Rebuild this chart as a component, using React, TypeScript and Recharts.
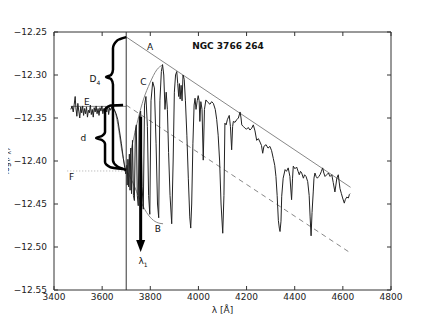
import React from 'react';
import { ComposedChart, Line, XAxis, YAxis, ReferenceLine, ReferenceDot } from 'recharts';

const FONT = '"DejaVu Sans", sans-serif';

const xTicks = [3400, 3600, 3800, 4000, 4200, 4400, 4600, 4800];
const yTicks = [-12.55, -12.5, -12.45, -12.4, -12.35, -12.3, -12.25];

// spectrum: [wavelength, log flux]
const spectrumBlue: number[][] = [
  [3470, -12.340], [3475, -12.336], [3480, -12.343], [3484, -12.334], [3488, -12.325],
  [3491, -12.338], [3495, -12.348], [3499, -12.333], [3503, -12.342], [3507, -12.350],
  [3511, -12.337], [3515, -12.344], [3519, -12.336], [3523, -12.347], [3527, -12.339],
  [3531, -12.345], [3535, -12.337], [3539, -12.349], [3543, -12.341], [3547, -12.344],
  [3551, -12.335], [3555, -12.346], [3559, -12.340], [3563, -12.349], [3567, -12.338],
  [3571, -12.343], [3575, -12.336], [3579, -12.345], [3583, -12.339], [3587, -12.347],
  [3591, -12.338], [3595, -12.342], [3599, -12.336], [3603, -12.345], [3607, -12.339],
  [3611, -12.344], [3615, -12.337], [3619, -12.343], [3623, -12.336], [3627, -12.346],
  [3631, -12.338], [3635, -12.341], [3640, -12.337], [3645, -12.343], [3650, -12.340],
  [3658, -12.345], [3665, -12.352], [3672, -12.365], [3680, -12.380], [3688, -12.397],
  [3694, -12.408], [3698, -12.415],
];
const spectrumBalmer: number[][] = [
  [3702, -12.405], [3704, -12.428], [3707, -12.398], [3710, -12.430], [3713, -12.392],
  [3716, -12.434], [3719, -12.385], [3722, -12.438], [3726, -12.376], [3730, -12.440],
  [3734, -12.446], [3738, -12.365], [3742, -12.358], [3746, -12.440], [3750, -12.452],
  [3754, -12.350], [3760, -12.342], [3766, -12.430], [3771, -12.456], [3776, -12.335],
  [3782, -12.325], [3788, -12.360], [3793, -12.440], [3798, -12.462], [3803, -12.330],
  [3810, -12.308], [3817, -12.315], [3824, -12.380], [3830, -12.450], [3835, -12.466],
  [3840, -12.330], [3846, -12.296], [3851, -12.288], [3856, -12.300], [3861, -12.340],
  [3866, -12.320], [3871, -12.340], [3876, -12.390], [3882, -12.440], [3889, -12.473],
  [3895, -12.400], [3900, -12.320], [3905, -12.300], [3910, -12.296], [3914, -12.310],
  [3918, -12.325], [3921, -12.310], [3924, -12.328], [3928, -12.312], [3932, -12.330],
  [3936, -12.300], [3941, -12.305], [3946, -12.330], [3952, -12.370], [3958, -12.420],
  [3964, -12.465], [3968, -12.478], [3972, -12.450], [3977, -12.380], [3982, -12.335],
  [3986, -12.327], [3990, -12.340], [3995, -12.330], [3999, -12.324],
];
const spectrumRed: number[][] = [
  [4003, -12.330], [4006, -12.354], [4010, -12.331], [4015, -12.340], [4020, -12.399],
  [4025, -12.340], [4031, -12.329], [4040, -12.332], [4048, -12.334], [4055, -12.331],
  [4062, -12.333], [4070, -12.340], [4076, -12.352], [4082, -12.370], [4088, -12.400],
  [4094, -12.450], [4101, -12.484], [4106, -12.440], [4110, -12.356], [4115, -12.358],
  [4120, -12.352], [4128, -12.347], [4133, -12.360], [4138, -12.387], [4142, -12.360],
  [4145, -12.354], [4152, -12.355], [4159, -12.352], [4166, -12.350], [4173, -12.343],
  [4177, -12.350], [4180, -12.358], [4187, -12.360], [4194, -12.362], [4200, -12.363],
  [4207, -12.361], [4214, -12.364], [4221, -12.362], [4228, -12.358], [4235, -12.365],
  [4242, -12.376], [4249, -12.374], [4256, -12.378], [4262, -12.382], [4267, -12.391],
  [4272, -12.383], [4281, -12.381], [4289, -12.385], [4297, -12.383], [4304, -12.388],
  [4311, -12.397], [4317, -12.405], [4322, -12.418], [4327, -12.440], [4332, -12.469],
  [4336, -12.478], [4339, -12.482], [4343, -12.470], [4346, -12.441], [4352, -12.420],
  [4360, -12.410], [4366, -12.412], [4373, -12.408], [4380, -12.418], [4387, -12.445],
  [4391, -12.420], [4394, -12.406], [4401, -12.409], [4408, -12.407], [4414, -12.412],
  [4419, -12.416], [4424, -12.412], [4429, -12.414], [4436, -12.420], [4441, -12.416],
  [4447, -12.418], [4454, -12.424], [4460, -12.440], [4464, -12.465], [4468, -12.487],
  [4472, -12.460], [4477, -12.436], [4480, -12.420], [4484, -12.414], [4489, -12.418],
  [4494, -12.420], [4500, -12.418], [4505, -12.416], [4511, -12.412], [4516, -12.408],
  [4521, -12.414], [4526, -12.418], [4533, -12.416], [4540, -12.414], [4547, -12.418],
  [4554, -12.416], [4560, -12.425], [4567, -12.436], [4571, -12.428], [4575, -12.420],
  [4581, -12.416], [4588, -12.432], [4594, -12.438], [4599, -12.443], [4606, -12.449],
  [4610, -12.445], [4616, -12.442], [4623, -12.443], [4627, -12.439], [4630, -12.438],
];

const lineA = [[3700, -12.2558], [4632, -12.4306]];
const lineDashed = [[3700, -12.335], [4630, -12.5066]];
const lineE = [[3470, -12.3365], [3700, -12.3365]];
const lineF = [[3455, -12.4116], [3700, -12.4116]];
const curveLeft = [[3640, -12.337], [3650, -12.340], [3660, -12.350], [3670, -12.366], [3680, -12.385], [3690, -12.400], [3698, -12.4105]];
const curveC = [[3702, -12.414], [3736, -12.367], [3771, -12.329], [3799, -12.309], [3827, -12.294], [3852, -12.288]];
const curveB = [[3700, -12.4105], [3729, -12.426], [3757, -12.445], [3785, -12.460], [3813, -12.469], [3840, -12.4725], [3853, -12.473]];

const braceD4 = [[3700, -12.256], [3662, -12.260], [3645, -12.269], [3645, -12.294], [3637, -12.300], [3616, -12.3023], [3637, -12.3047], [3645, -12.311], [3645, -12.399], [3662, -12.406], [3700, -12.4105]];
const braceD = [[3687, -12.3349], [3633, -12.3355], [3612, -12.3407], [3612, -12.3663], [3599, -12.3709], [3575, -12.3733], [3599, -12.3756], [3612, -12.3802], [3612, -12.4012], [3633, -12.407], [3687, -12.4093]];
const arrowLambda1 = [[3760, -12.3485], [3760, -12.492]];

const annotations = [
  { x: 3799, y: -12.2671, text: 'A', sub: '' },
  { x: 3771, y: -12.3078, text: 'C', sub: '' },
  { x: 3831, y: -12.4791, text: 'B', sub: '' },
  { x: 3536, y: -12.3310, text: 'E', sub: '' },
  { x: 3473, y: -12.4186, text: 'F', sub: '' },
  { x: 3570, y: -12.3038, text: 'D', sub: '4' },
  { x: 3522, y: -12.3724, text: 'd', sub: '' },
  { x: 3770, y: -12.5157, text: 'λ', sub: '1' },
];
const title = { x: 4123, y: -12.2663, text: 'NGC 3766 264' };

const toPts = (arr: number[][]) => arr.map(([x, y]) => ({ x, y }));
const spectrum = toPts([...spectrumBlue, ...spectrumBalmer, ...spectrumRed]);

const fmtY = (v: number) => '\u2212' + Math.abs(v).toFixed(2);
const Empty = () => <g />;

export default function App() {
  return (
    <div style={{ margin: '-8px 0 0 -8px', width: 436, height: 325 }}>
      <ComposedChart width={436} height={325} margin={{ top: 28, right: 44, bottom: 11, left: 0 }} style={{ overflow: 'visible' }}>
        <XAxis
          xAxisId={0}
          dataKey="x"
          type="number"
          domain={[3400, 4800]}
          ticks={xTicks}
          allowDataOverflow
          height={24}
          tickSize={-4}
          tickMargin={8}
          stroke="#333"
          tick={{ fontSize: 9, fontFamily: FONT, fill: '#222' }}
          label={(p: any) => (
            <text x={p.viewBox.x + p.viewBox.width / 2} y={p.viewBox.y + 23} textAnchor="middle" fontSize={9} fontFamily={FONT} fill="#222">λ [Å]</text>
          )}
        />
        <XAxis xAxisId="top" orientation="top" dataKey="x" type="number" domain={[3400, 4800]} ticks={xTicks} allowDataOverflow height={4} tickSize={-4} stroke="#333" tick={<Empty />} />
        <YAxis
          yAxisId={0}
          type="number"
          domain={[-12.55, -12.25]}
          ticks={yTicks}
          allowDataOverflow
          width={54}
          tickSize={-4}
          tickMargin={11}
          stroke="#333"
          tickFormatter={fmtY}
          tick={{ fontSize: 9, fontFamily: FONT, fill: '#222' }}
          label={(p: any) => {
            const cx = p.viewBox.x + 9;
            const cy = p.viewBox.y + p.viewBox.height / 2;
            return (
              <text x={cx} y={cy} transform={`rotate(-90, ${cx}, ${cy})`} textAnchor="middle" fontSize={8} fontFamily={FONT} fill="#222">
                log(<tspan fontStyle="italic">F</tspan><tspan dy={2} fontSize={6}>λ</tspan><tspan dy={-2}>)</tspan>
              </text>
            );
          }}
        />
        <YAxis yAxisId="right" orientation="right" type="number" domain={[-12.55, -12.25]} ticks={yTicks} allowDataOverflow width={1} tickSize={-4} stroke="#333" tick={<Empty />} />

        <Line data={toPts(lineF)} dataKey="y" stroke="#aaa" strokeWidth={1} strokeDasharray="1 2" dot={false} isAnimationActive={false} />
        <Line data={toPts(lineE)} dataKey="y" stroke="#888" strokeWidth={1} dot={false} isAnimationActive={false} />
        <Line data={toPts(lineA)} dataKey="y" stroke="#888" strokeWidth={1} dot={false} isAnimationActive={false} />
        <Line data={toPts(lineDashed)} dataKey="y" stroke="#888" strokeWidth={1} strokeDasharray="5 4" dot={false} isAnimationActive={false} />
        <Line data={toPts(curveLeft)} dataKey="y" type="monotone" stroke="#888" strokeWidth={1} dot={false} isAnimationActive={false} />
        <Line data={toPts(curveC)} dataKey="y" type="monotone" stroke="#888" strokeWidth={1} dot={false} isAnimationActive={false} />
        <Line data={toPts(curveB)} dataKey="y" type="monotone" stroke="#888" strokeWidth={1} dot={false} isAnimationActive={false} />
        <Line data={spectrum} dataKey="y" stroke="#222" strokeWidth={1} dot={false} isAnimationActive={false} />
        <ReferenceLine x={3700} stroke="#333" strokeWidth={1} />
        <Line data={toPts(braceD4)} dataKey="y" type="monotoneY" stroke="#000" strokeWidth={2.5} dot={false} isAnimationActive={false} />
        <Line data={toPts(braceD)} dataKey="y" type="monotoneY" stroke="#000" strokeWidth={2.5} dot={false} isAnimationActive={false} />
        <Line data={toPts(arrowLambda1)} dataKey="y" stroke="#000" strokeWidth={3} dot={false} isAnimationActive={false} />
        <ReferenceDot
          x={arrowLambda1[1][0]}
          y={arrowLambda1[1][1]}
          r={0}
          shape={(p: any) => <polygon points={`${p.cx - 4.5},${p.cy} ${p.cx + 4.5},${p.cy} ${p.cx},${p.cy + 12}`} fill="#000" />}
        />
        {annotations.map((a, i) => (
          <ReferenceDot
            key={i}
            x={a.x}
            y={a.y}
            r={0}
            shape={(p: any) => (
              <text x={p.cx} y={p.cy} dy="0.36em" textAnchor="middle" fontSize={9} fontFamily={FONT} fill="#111">
                {a.text}
                {a.sub ? <tspan dy={3} fontSize={6}>{a.sub}</tspan> : null}
              </text>
            )}
          />
        ))}
        <ReferenceDot
          x={title.x}
          y={title.y}
          r={0}
          shape={(p: any) => (
            <text x={p.cx} y={p.cy} dy="0.36em" textAnchor="middle" fontSize={9} fontWeight="bold" fontFamily={FONT} fill="#111">{title.text}</text>
          )}
        />
      </ComposedChart>
    </div>
  );
}
